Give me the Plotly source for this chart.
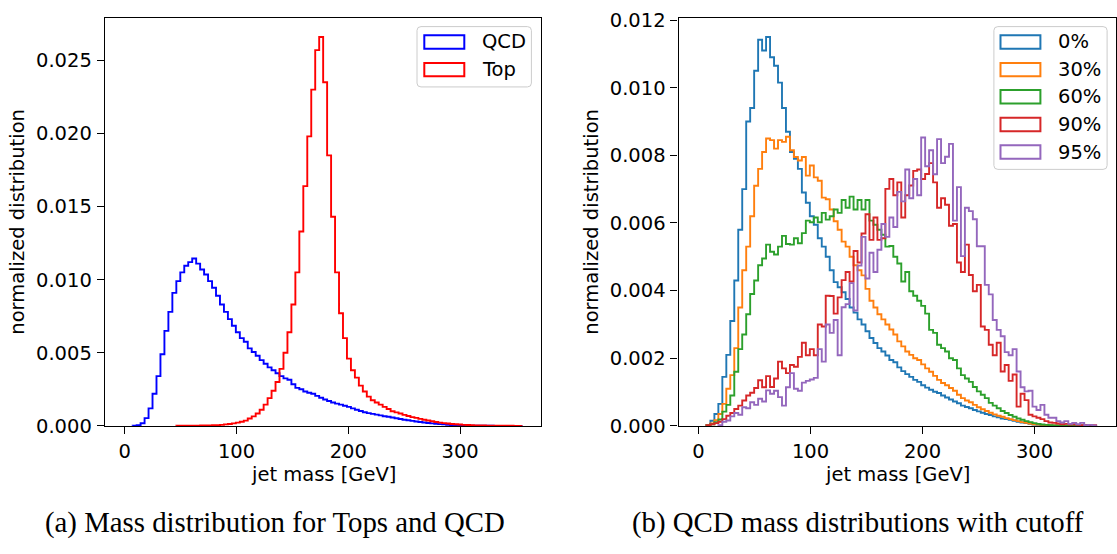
import numpy as np
import plotly.graph_objects as go

# ---------------------------------------------------------------- data
# Jet-mass histograms, 100 bins of equal width between 0 and 355 GeV.
MASS_MIN = 0.0
MASS_MAX = 355.0
N_BINS = 100

# Normalized densities, in units of 1e-3 per GeV.
qcd_e3 = [
    0, 0, 0.01, 0.04, 0.18, 0.53, 1.2, 2.2, 3.4, 4.9,
    6.5, 7.8, 9.1, 9.9, 10.5, 10.95, 11.2, 11.45, 11.1, 10.7,
    10.35, 9.9, 9.45, 8.9, 8.3, 7.8, 7.3, 6.85, 6.4, 6.0,
    5.75, 5.3, 5.05, 4.8, 4.5, 4.25, 4.0, 3.8, 3.6, 3.4,
    3.25, 3.15, 2.85, 2.6, 2.5, 2.35, 2.27, 2.2, 2.05, 1.92,
    1.8, 1.7, 1.6, 1.52, 1.45, 1.38, 1.3, 1.2, 1.1, 1.02,
    0.93, 0.87, 0.82, 0.77, 0.72, 0.66, 0.62, 0.57, 0.52, 0.47,
    0.42, 0.38, 0.34, 0.30, 0.27, 0.23, 0.20, 0.17, 0.15, 0.12,
    0.10, 0.08, 0.06, 0.05, 0.04, 0.03, 0.02, 0.015, 0.01, 0.008,
    0.006, 0.005, 0.004, 0.003, 0.003, 0.002, 0.002, 0.001, 0.001, 0.001,
]
top_e3 = [
    0, 0, 0, 0, 0, 0, 0, 0, 0, 0,
    0, 0, 0, 0.005, 0.006, 0.008, 0.01, 0.015, 0.02, 0.025,
    0.03, 0.035, 0.04, 0.05, 0.07, 0.1, 0.13, 0.17, 0.22, 0.28,
    0.36, 0.5, 0.65, 0.85, 1.1, 1.45, 1.9, 2.4, 3.0, 3.9,
    5.0, 6.4, 8.3, 10.5, 13.3, 16.4, 19.8, 23.0, 25.7, 26.6,
    23.5, 18.5, 14.3, 10.5, 7.7, 6.0, 4.6, 3.8, 3.3, 2.75,
    2.35, 2.0, 1.75, 1.6, 1.45, 1.3, 1.15, 1.0, 0.92, 0.85,
    0.75, 0.68, 0.6, 0.55, 0.48, 0.42, 0.37, 0.32, 0.26, 0.22,
    0.19, 0.16, 0.13, 0.11, 0.09, 0.07, 0.055, 0.045, 0.035, 0.028,
    0.022, 0.017, 0.013, 0.01, 0.008, 0.006, 0.005, 0.004, 0.003, 0.002,
]

cut_0_e3 = [
    0, 0, 0.02, 0.15, 0.35, 0.65, 1.45, 2.1, 3.1, 4.3,
    5.8, 7.0, 9.0, 9.4, 10.5, 11.42, 11.1, 11.5, 10.9, 10.65,
    10.15, 9.4, 8.7, 8.1, 7.9, 7.6, 6.9, 6.6, 6.2, 5.95,
    5.55, 5.3, 5.0, 4.6, 4.25, 4.1, 3.95, 3.75, 3.5, 3.35,
    3.15, 3.0, 2.8, 2.6, 2.45, 2.3, 2.2, 2.08, 1.95, 1.88,
    1.73, 1.62, 1.53, 1.45, 1.36, 1.3, 1.2, 1.13, 1.07, 1.01,
    0.97, 0.9, 0.84, 0.78, 0.72, 0.67, 0.6, 0.56, 0.52, 0.47,
    0.43, 0.39, 0.35, 0.32, 0.28, 0.25, 0.22, 0.2, 0.18, 0.15,
    0.12, 0.1, 0.08, 0.06, 0.04, 0.03, 0.02, 0.015, 0.01, 0.008,
    0.006, 0.005, 0.004, 0.003, 0.003, 0.002, 0.002, 0.001, 0.001, 0.001,
]
cut_30_e3 = [
    0, 0, 0.01, 0.07, 0.17, 0.35, 0.65, 1.1, 1.5, 2.3,
    3.5, 4.6, 5.3, 6.2, 7.1, 7.6, 8.1, 8.5, 8.45, 8.2,
    8.45, 8.4, 8.55, 8.15, 7.95, 7.85, 7.95, 7.4, 7.7, 7.35,
    7.25, 6.75, 6.7, 6.4, 6.05, 5.8, 5.45, 5.3, 5.0, 4.75,
    4.6, 4.45, 4.05, 3.7, 3.5, 3.3, 3.15, 3.0, 2.85, 2.7,
    2.5, 2.35, 2.2, 2.1, 2.0, 1.95, 1.82, 1.7, 1.6, 1.48,
    1.36, 1.27, 1.2, 1.12, 1.04, 0.92, 0.82, 0.75, 0.7, 0.62,
    0.55, 0.49, 0.44, 0.39, 0.34, 0.3, 0.27, 0.23, 0.2, 0.17,
    0.14, 0.11, 0.09, 0.07, 0.05, 0.04, 0.03, 0.02, 0.015, 0.01,
    0.008, 0.006, 0.005, 0.004, 0.003, 0.003, 0.002, 0.002, 0.001, 0.001,
]
cut_60_e3 = [
    0, 0, 0.01, 0.05, 0.11, 0.19, 0.42, 0.62, 0.9, 1.6,
    2.27, 2.7, 3.3, 3.9, 4.3, 4.75, 4.95, 5.36, 5.15, 5.07,
    5.3, 5.62, 5.38, 5.36, 5.55, 5.4, 5.7, 6.07, 6.02, 6.16,
    6.02, 6.3, 6.1, 6.2, 6.4, 6.3, 6.68, 6.45, 6.78, 6.4,
    6.68, 6.4, 6.68, 6.07, 5.95, 5.8, 5.65, 5.3, 5.32, 5.0,
    4.8, 4.27, 4.55, 3.98, 3.85, 3.7, 3.55, 3.32, 2.84, 2.75,
    2.4, 2.3, 2.2, 2.0, 1.95, 1.7, 1.5, 1.4, 1.3, 1.15,
    1.02, 0.92, 0.82, 0.68, 0.6, 0.52, 0.44, 0.38, 0.32, 0.27,
    0.22, 0.18, 0.14, 0.11, 0.08, 0.06, 0.04, 0.03, 0.02, 0.015,
    0.01, 0.008, 0.006, 0.005, 0.004, 0.003, 0.002, 0.002, 0.001, 0.001,
]
cut_90_e3 = [
    0, 0, 0.02, 0.05, 0.08, 0.12, 0.2, 0.3, 0.38, 0.5,
    0.6, 0.75, 0.9, 0.98, 1.12, 1.35, 1.14, 1.47, 1.15, 1.4,
    1.9, 1.7, 1.56, 1.8, 1.75, 2.04, 2.46, 2.09, 2.27, 2.09,
    3.0, 2.94, 3.85, 3.84, 3.32, 3.8, 4.31, 4.55, 4.27, 5.17,
    4.83, 5.69, 6.26, 5.5, 6.16, 5.5, 5.55, 7.01, 7.3, 6.82,
    7.2, 6.16, 6.82, 7.11, 7.54, 7.58, 7.3, 7.45, 7.77, 7.2,
    6.45, 6.73, 6.54, 5.92, 5.97, 4.83, 4.55, 5.36, 4.46, 3.98,
    4.17, 2.94, 2.84, 2.4, 2.09, 2.46, 1.61, 1.8, 1.33, 1.52,
    0.57, 0.95, 0.76, 0.33, 0.28, 0.24, 0.2, 0.14, 0.1, 0.09,
    0.07, 0.05, 0.06, 0.04, 0.05, 0.03, 0.02, 0.03, 0.01, 0.02,
]
cut_95_e3 = [
    0, 0, 0, 0, 0, 0.02, 0.12, 0.16, 0.28, 0.38,
    0.33, 0.55, 0.52, 0.7, 0.62, 0.8, 0.72, 1.05, 0.95, 1.04,
    0.85, 0.6, 1.14, 1.56, 1.1, 1.04, 1.28, 1.33, 1.37, 1.42,
    2.27, 1.9, 3.0, 2.75, 3.13, 2.09, 3.51, 3.6, 4.22, 3.41,
    4.74, 5.59, 4.36, 5.12, 4.55, 5.21, 5.97, 5.59, 6.16, 5.88,
    6.92, 6.64, 7.58, 6.73, 7.3, 6.82, 8.53, 7.68, 8.15, 7.44,
    8.48, 7.77, 7.96, 8.34, 6.07, 7.06, 5.02, 6.45, 6.35, 6.11,
    5.31, 5.31, 4.17, 3.89, 3.13, 2.84, 2.65, 2.18, 2.09, 2.27,
    1.61, 1.14, 1.02, 1.04, 0.57, 0.47, 0.62, 0.33, 0.24, 0.24,
    0.14, 0.1, 0.14, 0.06, 0.09, 0.05, 0.09, 0.02, 0.03, 0.01,
]

left_names = ["QCD", "Top"]
left_series = [qcd_e3, top_e3]
left_colors = ["#0000ff", "#ff0000"]

cut_names = ["0%", "30%", "60%", "90%", "95%"]
cut_series = [cut_0_e3, cut_30_e3, cut_60_e3, cut_90_e3, cut_95_e3]
cut_colors = ["#1f77b4", "#ff7f0e", "#2ca02c", "#d62728", "#9467bd"]

captions = ["(a) Mass distribution for Tops and QCD",
            "(b) QCD mass distributions with cutoff"]
x_title = "jet mass [GeV]"
y_title = "normalized distribution"

# ---------------------------------------------------------------- helpers
W, H = 1117, 554
edges = np.linspace(MASS_MIN, MASS_MAX, N_BINS + 1)


def step_outline(values_e3):
    """Outline of an unfilled step histogram, starting at its first filled bin."""
    vals = np.asarray(values_e3, dtype=float) * 1e-3
    first = int(np.argmax(vals > 0))
    e = edges[first:]
    v = vals[first:]
    xs = np.concatenate([[e[0]], e[:-1], [e[-1]], [e[-1]]])
    ys = np.concatenate([[0.0], v, [v[-1]], [0.0]])
    return xs, ys


def px(x):
    return x / W


def py(y):
    return 1 - y / H


def rounded_box(x0, y0, x1, y1, r=4):
    pts = [
        f"M {px(x0 + r)} {py(y0)}", f"L {px(x1 - r)} {py(y0)}",
        f"Q {px(x1)} {py(y0)} {px(x1)} {py(y0 + r)}", f"L {px(x1)} {py(y1 - r)}",
        f"Q {px(x1)} {py(y1)} {px(x1 - r)} {py(y1)}", f"L {px(x0 + r)} {py(y1)}",
        f"Q {px(x0)} {py(y1)} {px(x0)} {py(y1 - r)}", f"L {px(x0)} {py(y0 + r)}",
        f"Q {px(x0)} {py(y0)} {px(x0 + r)} {py(y0)}", "Z",
    ]
    return " ".join(pts)


# ---------------------------------------------------------------- figure
fig = go.Figure()

for name, vals, col in zip(left_names, left_series, left_colors):
    xs, ys = step_outline(vals)
    fig.add_trace(go.Scatter(x=xs, y=ys, mode="lines", line_shape="hv",
                             line=dict(color=col, width=1.9), name=name,
                             xaxis="x", yaxis="y", showlegend=False))

for name, vals, col in zip(cut_names, cut_series, cut_colors):
    xs, ys = step_outline(vals)
    fig.add_trace(go.Scatter(x=xs, y=ys, mode="lines", line_shape="hv",
                             line=dict(color=col, width=1.9), name=name,
                             xaxis="x2", yaxis="y2", showlegend=False))

tick_font = dict(family="DejaVu Sans", size=19.5, color="black")
x_pad = 0.05 * (MASS_MAX - MASS_MIN)
x_range = [MASS_MIN - x_pad, MASS_MAX + x_pad]
left_top = 1.05 * max(max(s) for s in left_series) * 1e-3
right_top = 1.05 * max(max(s) for s in cut_series) * 1e-3

y_dom = [py(433.3), py(8.9)]
common_axis = dict(showgrid=False, zeroline=False, showline=True, mirror=True,
                   linecolor="black", linewidth=1.3, ticks="outside",
                   ticklen=7, tickwidth=1.3, tickcolor="black",
                   tickfont=tick_font, ticklabelstandoff=1)

fig.update_layout(
    width=W, height=H,
    margin=dict(l=0, r=0, t=0, b=0),
    paper_bgcolor="white", plot_bgcolor="white",
    showlegend=False,
    xaxis=dict(domain=[px(104.9), px(541.4)], range=x_range,
               tickvals=[0, 100, 200, 300], anchor="y", **common_axis),
    yaxis=dict(domain=y_dom, range=[0, left_top],
               tickvals=[0, 0.005, 0.010, 0.015, 0.020, 0.025],
               tickformat=".3f", anchor="x", **common_axis),
    xaxis2=dict(domain=[px(678.6), px(1116.0)], range=x_range,
                tickvals=[0, 100, 200, 300], anchor="y2", **common_axis),
    yaxis2=dict(domain=y_dom, range=[0, right_top],
                tickvals=[0, 0.002, 0.004, 0.006, 0.008, 0.010, 0.012],
                tickformat=".3f", anchor="x2", **common_axis),
)

label_font = dict(family="DejaVu Sans", size=19.5, color="black")
annotations = []
shapes = []

# axis titles
for xc in (323.2, 897.3):
    annotations.append(dict(x=px(xc), y=py(484.0), xref="paper", yref="paper",
                            text=x_title, showarrow=False, font=label_font,
                            xanchor="center", yanchor="middle"))
for xc in (18.0, 592.0):
    annotations.append(dict(x=px(xc), y=py(221.1), xref="paper", yref="paper",
                            text=y_title, showarrow=False, font=label_font,
                            textangle=-90, xanchor="center", yanchor="middle"))

# captions
for xc, txt in zip((275.0, 858.0), captions):
    annotations.append(dict(x=px(xc), y=py(534.0), xref="paper", yref="paper",
                            text=txt, showarrow=False,
                            font=dict(family="Liberation Serif", size=28.8,
                                      color="black"),
                            xanchor="center", yanchor="middle"))


def add_legend(box, patch_x, text_x, row_y, names, colors):
    shapes.append(dict(type="path", xref="paper", yref="paper",
                       path=rounded_box(*box),
                       line=dict(color="#cccccc", width=1),
                       fillcolor="rgba(255,255,255,0.8)", layer="above"))
    for yc, nm, col in zip(row_y, names, colors):
        shapes.append(dict(type="rect", xref="paper", yref="paper",
                           x0=px(patch_x[0]), x1=px(patch_x[1]),
                           y0=py(yc - 7), y1=py(yc + 7),
                           line=dict(color=col, width=2),
                           fillcolor="rgba(0,0,0,0)", layer="above"))
        annotations.append(dict(x=px(text_x), y=py(yc), xref="paper",
                                yref="paper", text=nm, showarrow=False,
                                font=label_font, xanchor="left",
                                yanchor="middle"))


add_legend((417.0, 18.3, 531.4, 81.0), (424.3, 464.3), 479.6,
           [34.3, 63.0], left_names, left_colors)
add_legend((993.9, 18.3, 1107.1, 166.7), (1000.5, 1040.4), 1055.5,
           [34.3, 63.0, 91.3, 120.0, 148.7], cut_names, cut_colors)

fig.update_layout(annotations=annotations, shapes=shapes)

fig.write_html("out.html")
